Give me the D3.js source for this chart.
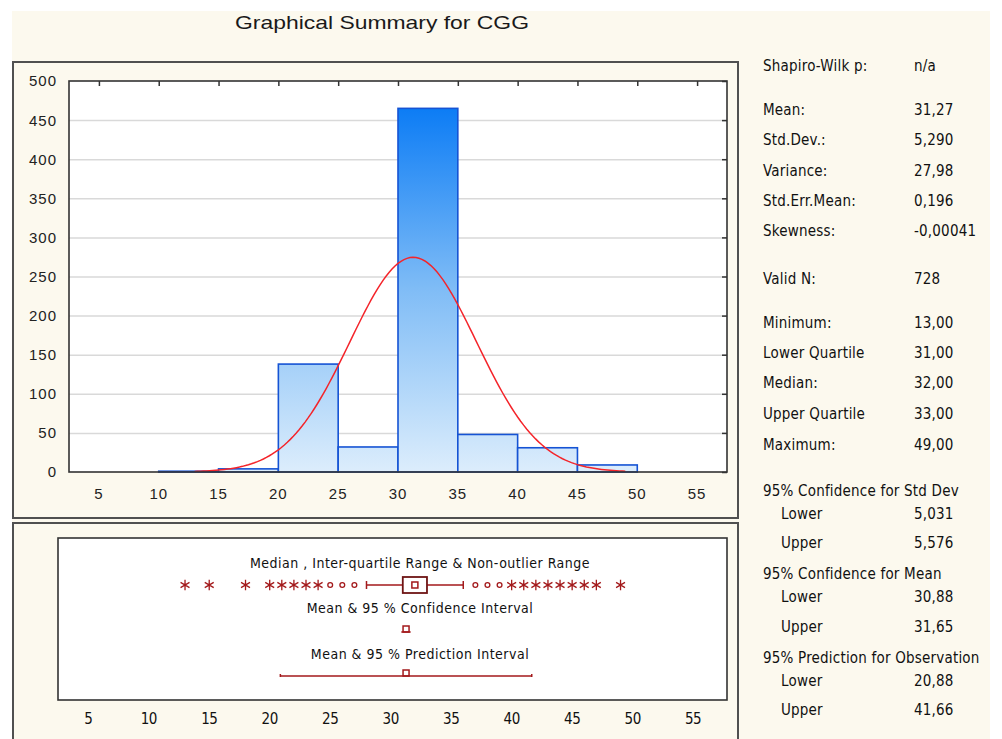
<!DOCTYPE html>
<html>
<head>
<meta charset="utf-8">
<title>Graphical Summary for CGG</title>
<script src="https://cdn.jsdelivr.net/npm/d3@7"></script>
<style>
  body { margin: 0; background: #fff; }
  svg { display: block; }
  .num { font-family: "Liberation Sans", Arial, sans-serif; fill: #222; }
  .narrow { font-family: "Liberation Sans Narrow", "DejaVu Sans Condensed", "Liberation Sans", sans-serif; fill: #111; }
</style>
</head>
<body>
<script>
// histogram bins (lower edge, width 5) and counts
const binLo = [10, 15, 20, 25, 30, 35, 40, 45]
const binW = 5
const counts = [1, 4, 138, 32, 465, 48, 31, 9]

// summary stats
const mean = 31.27, sd = 5.290, nValid = 728
const minV = 13, maxV = 49
const q1 = 31, med = 32, q3 = 33
const whisk = [28, 36]
const ciMean = [30.88, 31.65]
const predInt = [20.88, 41.66]
const outliers = [25, 26, 27, 37, 38, 39]
const extremes = [13, 15, 18, 20, 21, 22, 23, 24, 40, 41, 42, 43, 44, 45, 46, 47, 49]

const xTicks = [5, 10, 15, 20, 25, 30, 35, 40, 45, 50, 55]
const yTicks = [0, 50, 100, 150, 200, 250, 300, 350, 400, 450, 500]

const statLabels = ["Shapiro-Wilk p:", "Mean:", "Std.Dev.:", "Variance:", "Std.Err.Mean:", "Skewness:",
  "Valid N:", "Minimum:", "Lower Quartile", "Median:", "Upper Quartile", "Maximum:",
  "95% Confidence for Std Dev", "Lower", "Upper", "95% Confidence for Mean", "Lower", "Upper",
  "95% Prediction for Observation", "Lower", "Upper"]
const statValues = ["n/a", "31,27", "5,290", "27,98", "0,196", "-0,00041",
  "728", "13,00", "31,00", "32,00", "33,00", "49,00",
  "", "5,031", "5,576", "", "30,88", "31,65", "", "20,88", "41,66"]
const statY = [66, 110, 140, 171, 201, 231, 279, 323, 353, 383, 414, 445, 491, 514, 543, 574, 597, 627, 658, 681, 710]

const W = 1002, H = 739
const svg = d3.select("body").append("svg").attr("width", W).attr("height", H)

const defs = svg.append("defs")

// cream page
svg.append("rect").attr("x", 12).attr("y", 11).attr("width", 978).attr("height", 728).attr("fill", "#fcf9ee")

svg.append("text").attr("class", "num")
  .attr("x", 382).attr("y", 29).attr("text-anchor", "middle")
  .attr("font-size", 19).attr("textLength", 294).attr("lengthAdjust", "spacingAndGlyphs")
  .style("fill", "#1a1a1a").text("Graphical Summary for CGG")

// frames
svg.append("rect").attr("x", 13).attr("y", 62).attr("width", 725).attr("height", 456)
  .attr("fill", "none").attr("stroke", "#505050").attr("stroke-width", 2)
svg.append("rect").attr("x", 13).attr("y", 523).attr("width", 725).attr("height", 240)
  .attr("fill", "none").attr("stroke", "#505050").attr("stroke-width", 2)

// ---------- histogram ----------
const pl = { x0: 69, x1: 727, y0: 81, y1: 472 }
const x = d3.scaleLinear().domain([2.5, 57.5]).range([pl.x0, pl.x1])
const y = d3.scaleLinear().domain([0, 500]).range([pl.y1, pl.y0])

const grad = defs.append("linearGradient").attr("id", "barg")
  .attr("gradientUnits", "userSpaceOnUse")
  .attr("x1", 0).attr("x2", 0).attr("y1", y(0)).attr("y2", y(470))
grad.append("stop").attr("offset", 0).attr("stop-color", "#dcedfc")
grad.append("stop").attr("offset", 0.5).attr("stop-color", "#7fbcf6")
grad.append("stop").attr("offset", 1).attr("stop-color", "#0a7bf5")

const hist = svg.append("g")
hist.append("rect").attr("x", pl.x0).attr("y", pl.y0).attr("width", pl.x1 - pl.x0).attr("height", pl.y1 - pl.y0)
  .attr("fill", "#fff")

hist.append("g")
  .attr("transform", `translate(${pl.x0},0)`)
  .call(d3.axisLeft(y).tickValues(yTicks.slice(1, -1)).tickSize(-(pl.x1 - pl.x0)).tickFormat(""))
  .call(g => g.select(".domain").remove())
  .call(g => g.selectAll("line").attr("stroke", "#d9d9d9").attr("stroke-width", 1.5))

hist.selectAll("rect.bar").data(counts).join("rect").attr("class", "bar")
  .attr("x", (d, i) => x(binLo[i]))
  .attr("width", (d, i) => x(binLo[i] + binW) - x(binLo[i]))
  .attr("y", d => y(d))
  .attr("height", d => y(0) - y(d))
  .attr("fill", "url(#barg)")
  .attr("stroke", "#1553d4").attr("stroke-width", 1.6)

// fitted normal curve
const curvePts = d3.range(minV, maxV + 0.01, 0.25)
const normY = v => nValid * binW / (sd * Math.sqrt(2 * Math.PI)) * Math.exp(-0.5 * ((v - mean) / sd) ** 2)
hist.append("path").datum(curvePts)
  .attr("fill", "none").attr("stroke", "#f4242a").attr("stroke-width", 1.5)
  .attr("d", d3.line().x(d => x(d)).y(d => y(normY(d))))

// frame + inward ticks
hist.append("rect").attr("x", pl.x0).attr("y", pl.y0).attr("width", pl.x1 - pl.x0).attr("height", pl.y1 - pl.y0)
  .attr("fill", "none").attr("stroke", "#333").attr("stroke-width", 1.6)
hist.append("g").attr("transform", `translate(0,${pl.y0})`)
  .call(d3.axisBottom(x).tickValues(xTicks).tickSize(5).tickFormat(""))
  .call(g => g.select(".domain").remove())
  .call(g => g.selectAll("line").attr("stroke", "#333").attr("stroke-width", 1.5))
hist.append("g").attr("transform", `translate(${pl.x1},0)`)
  .call(d3.axisLeft(y).tickValues(yTicks).tickSize(5).tickFormat(""))
  .call(g => g.select(".domain").remove())
  .call(g => g.selectAll("line").attr("stroke", "#333").attr("stroke-width", 1.5))

hist.append("g").selectAll("text").data(yTicks).join("text").attr("class", "num")
  .attr("x", 57).attr("y", d => y(d)).attr("dy", "0.36em").attr("text-anchor", "end")
  .attr("font-size", 15).attr("letter-spacing", 1).text(d => d)
hist.append("g").selectAll("text").data(xTicks).join("text").attr("class", "num")
  .attr("x", d => x(d)).attr("y", 499).attr("text-anchor", "middle")
  .attr("font-size", 15).attr("letter-spacing", 1).text(d => d)

// ---------- box plot panel ----------
const bx = d3.scaleLinear().domain([2.5, 57.8]).range([58, 727])
const bp = svg.append("g")
const red = "#a3191b"
bp.append("rect").attr("x", 58).attr("y", 538).attr("width", 669).attr("height", 162)
  .attr("fill", "#fff").attr("stroke", "#333").attr("stroke-width", 1.6)

const capH = 4
const row1 = 585, row2 = 630, row3 = 675
const lbl = [["Median , Inter-quartile Range & Non-outlier Range", 568],
  ["Mean & 95 % Confidence Interval", 613], ["Mean & 95 % Prediction Interval", 659]]
bp.selectAll("text.lbl").data(lbl).join("text").attr("class", "narrow lbl")
  .attr("x", 420).attr("y", d => d[1]).attr("text-anchor", "middle")
  .attr("font-size", 14).attr("letter-spacing", 0.5).text(d => d[0])

// whiskers + box
bp.append("line").attr("x1", bx(whisk[0])).attr("x2", bx(q1)).attr("y1", row1).attr("y2", row1).attr("stroke", red).attr("stroke-width", 1.5)
bp.append("line").attr("x1", bx(q3)).attr("x2", bx(whisk[1])).attr("y1", row1).attr("y2", row1).attr("stroke", red).attr("stroke-width", 1.5)
bp.selectAll("line.cap").data(whisk).join("line").attr("class", "cap")
  .attr("x1", d => bx(d)).attr("x2", d => bx(d)).attr("y1", row1 - capH).attr("y2", row1 + capH)
  .attr("stroke", red).attr("stroke-width", 1.5)
bp.append("rect").attr("x", bx(q1)).attr("width", bx(q3) - bx(q1)).attr("y", row1 - 8).attr("height", 16)
  .attr("fill", "#fff").attr("stroke", "#6e1414").attr("stroke-width", 1.8)
bp.append("rect").attr("x", bx(med) - 3).attr("y", row1 - 3).attr("width", 6).attr("height", 6)
  .attr("fill", "none").attr("stroke", red).attr("stroke-width", 1.5)

bp.selectAll("circle.out").data(outliers).join("circle").attr("class", "out")
  .attr("cx", d => bx(d)).attr("cy", row1).attr("r", 2.4)
  .attr("fill", "none").attr("stroke", red).attr("stroke-width", 1.3)
bp.selectAll("path.ext").data(extremes).join("path").attr("class", "ext")
  .attr("transform", d => `translate(${bx(d)},${row1})`)
  .attr("d", d3.symbol(d3.symbolAsterisk, 75))
  .attr("fill", "none").attr("stroke", red).attr("stroke-width", 1.3)

// mean & CI
bp.append("line").attr("x1", bx(ciMean[0])).attr("x2", bx(ciMean[1])).attr("y1", row2 + 2).attr("y2", row2 + 2)
  .attr("stroke", red).attr("stroke-width", 1.5)
bp.append("rect").attr("x", bx(mean) - 3).attr("y", row2 - 4).attr("width", 6).attr("height", 6)
  .attr("fill", "none").attr("stroke", red).attr("stroke-width", 1.5)

// mean & prediction interval
bp.append("line").attr("x1", bx(predInt[0])).attr("x2", bx(predInt[1])).attr("y1", row3 + 1).attr("y2", row3 + 1)
  .attr("stroke", red).attr("stroke-width", 1.5)
bp.selectAll("line.pcap").data(predInt).join("line").attr("class", "pcap")
  .attr("x1", d => bx(d)).attr("x2", d => bx(d)).attr("y1", row3 - 1).attr("y2", row3 + 2)
  .attr("stroke", red).attr("stroke-width", 1.5)
bp.append("rect").attr("x", bx(mean) - 3).attr("y", row3 - 5).attr("width", 6).attr("height", 6)
  .attr("fill", "none").attr("stroke", red).attr("stroke-width", 1.5)

bp.append("g").selectAll("text").data(xTicks).join("text").attr("class", "narrow")
  .attr("x", d => bx(d)).attr("y", 724).attr("text-anchor", "middle")
  .attr("font-size", 15).attr("letter-spacing", -0.5).text(d => d)

// ---------- stats column ----------
const st = svg.append("g").attr("class", "narrow").attr("font-size", 15).attr("letter-spacing", 0.2)
st.selectAll("text.sl").data(statLabels).join("text").attr("class", "sl")
  .attr("x", (d, i) => (d === "Lower" || d === "Upper") ? 781 : 763)
  .attr("y", (d, i) => statY[i] + 5).text(d => d)
st.selectAll("text.sv").data(statValues).join("text").attr("class", "sv")
  .attr("x", 914).attr("y", (d, i) => statY[i] + 5).text(d => d)
</script>
</body>
</html>
